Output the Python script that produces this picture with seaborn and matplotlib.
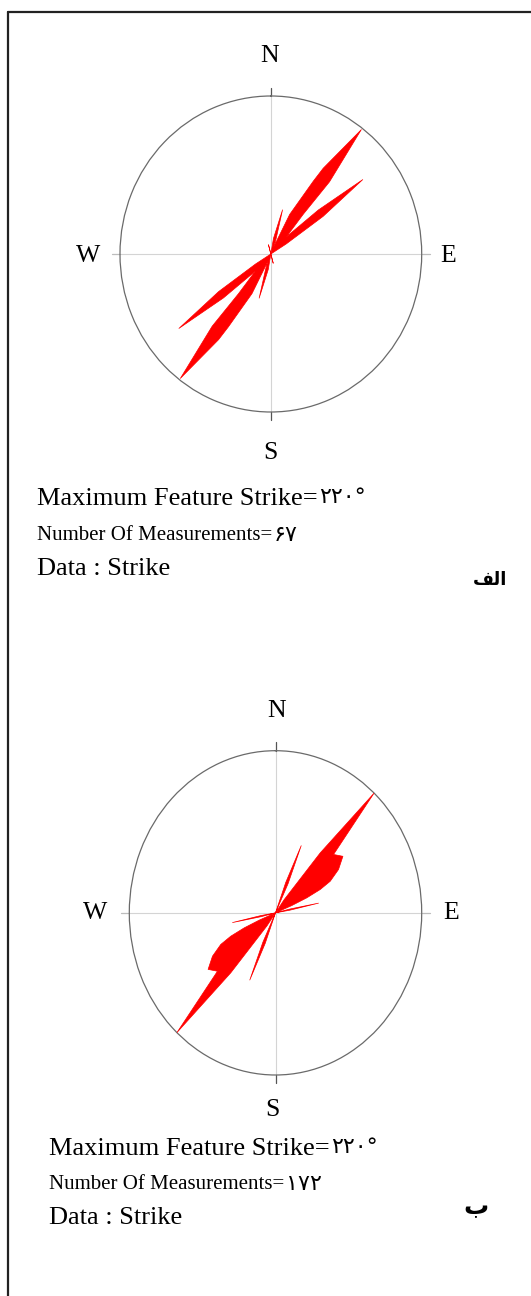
"""
Rose diagrams of fracture strike (two stations) with summary text.
"""

import numpy as np
import matplotlib
matplotlib.use("Agg")
import matplotlib.pyplot as plt
import seaborn as sns

# =========================
# Data: half rose outlines (strike 0-180 deg), radius as fraction of max
# the 180-360 half is the mirror (bidirectional strike)
# =========================

top_strike = [0, 10, 15.5, 20, 23, 26.5, 31.4, 32.6, 37.3, 40.4, 40.5, 43.5,
              48.5, 52.3, 55.5, 58, 60, 160, 165, 170, 180]
top_radius = [0, 0.1, 0.29, 0.1, 0.05, 0.28, 0.54, 0.644, 0.99, 0.6, 0.33, 0.15,
              0.42, 0.77, 0.42, 0.12, 0.0, 0.0, 0.06, 0.0, 0.0]

bottom_strike = [0, 20.5, 23, 25.5, 27, 36, 39.6, 42.4, 47.8, 52.9, 58.2, 62.5, 64.8,
                 66.6, 68, 70, 76.5, 78.5, 80.5, 82, 180]
bottom_radius = [0, 0.2, 0.45, 0.2, 0.0, 0.1, 0.48, 1.0, 0.536, 0.578, 0.507, 0.422, 0.338,
                 0.233, 0.12, 0.0, 0.1, 0.30, 0.1, 0.0, 0.0]

compass_labels = ["N", "E", "S", "W"]

top_stats = ["Maximum Feature Strike=", "Number Of Measurements=", "Data : Strike"]
top_values = ["۲۲۰°", "۶۷", ""]
bottom_stats = ["Maximum Feature Strike=", "Number Of Measurements=", "Data : Strike"]
bottom_values = ["۲۲۰°", "۱۷۲", ""]

panel_labels = ["\uFED2\uFEDF\uFE8D", "ب"]   # "الف" in visual order, "ب"

W, H = 531, 1296
SERIF = ["Liberation Serif", "DejaVu Serif"]
ARABIC = ["DejaVu Sans"]


def px_rect(left, top, right, bottom):
    """Pixel box -> figure fraction rect."""
    return [left / W, 1 - bottom / H, (right - left) / W, (bottom - top) / H]


def draw_rose(fig, rect, strike, radius, label_pos, v_ext, h_ext):
    ax = fig.add_axes(rect, projection="polar")
    ax.set_theta_zero_location("N")
    ax.set_theta_direction(-1)

    theta = np.deg2rad(np.array(strike + [s + 180 for s in strike]))
    r = np.array(radius + radius)

    ax.fill(theta, r, color="#ff0000", lw=0, zorder=3)
    sns.lineplot(x=theta, y=r, ax=ax, sort=False, estimator=None,
                 color="#ff0000", lw=0.5, zorder=3)

    ax.set_ylim(0, 1)
    ax.set_yticks([])
    ax.set_xticks(np.deg2rad([0, 90, 180, 270]))
    ax.set_xticklabels([])
    ax.set_xlabel("")
    ax.set_ylabel("")
    ax.grid(True, color="#d4d4d4", lw=0.8)
    ax.spines["polar"].set_color("#6a6a6a")
    ax.spines["polar"].set_linewidth(0.9)
    ax.set_aspect("auto")

    # small ticks outside the circle
    for ang in [0, 180]:
        ax.plot([np.deg2rad(ang)] * 2, [1.0, 1.0 + v_ext], color="#555555",
                lw=0.9, clip_on=False)
    for ang in [90, 270]:
        ax.plot([np.deg2rad(ang)] * 2, [1.0, 1.0 + h_ext], color="#bdbdbd",
                lw=0.9, clip_on=False)

    for lab, (x, y) in zip(compass_labels, label_pos):
        ax.text(x, y, lab, transform=ax.transAxes, ha="center", va="center",
                fontsize=18.5, family=SERIF, color="black")
    return ax


def draw_stats(bg, x, baselines, stats, values):
    sizes = [19, 15, 19]
    for text, value, y, size in zip(stats, values, baselines, sizes):
        t = bg.text(x, y, text, fontsize=size, family=SERIF, va="baseline",
                    ha="left", color="black")
        if value:
            bg.annotate(value, xy=(1, 1), xycoords=t, xytext=(1, 1),
                        textcoords="offset points", ha="left", va="top",
                        fontsize=16, family=ARABIC, color="black")


def main():
    sns.set_theme(style="white")
    plt.rcParams["font.family"] = SERIF
    plt.rcParams["text.color"] = "black"

    fig = plt.figure(figsize=(W / 100, H / 100), dpi=100)
    fig.patch.set_facecolor("white")

    bg = fig.add_axes([0, 0, 1, 1])
    bg.set_xlim(0, W)
    bg.set_ylim(H, 0)
    bg.axis("off")

    # frame (left and top)
    bg.plot([8, 8], [12, H], color="#222222", lw=1.6)
    bg.plot([8, W], [12, 12], color="#222222", lw=1.6)

    # top rose
    top_rect = px_rect(120, 96, 421.7, 412)
    draw_rose(fig, top_rect, top_strike, top_radius,
              [(0.497, 1.128), (1.088, 0.494), (0.500, -0.130), (-0.105, 0.494)],
              v_ext=0.05, h_ext=0.053)

    # bottom rose
    bottom_rect = px_rect(129.3, 750.7, 421.7, 1075)
    draw_rose(fig, bottom_rect, bottom_strike, bottom_radius,
              [(0.505, 1.122), (1.100, 0.500), (0.488, -0.108), (-0.117, 0.500)],
              v_ext=0.052, h_ext=0.055)

    draw_stats(bg, 37, [505, 540, 575], top_stats, top_values)
    draw_stats(bg, 49, [1155, 1189, 1224], bottom_stats, bottom_values)

    bg.text(490, 580, panel_labels[0], fontsize=13, family=ARABIC,
            fontweight="bold", ha="center", va="center", color="black")
    bg.text(476, 1207, panel_labels[1], fontsize=18, family=ARABIC,
            fontweight="bold", ha="center", va="center", color="black")

    fig.savefig("out.png", dpi=100)
    plt.close(fig)


if __name__ == "__main__":
    main()
